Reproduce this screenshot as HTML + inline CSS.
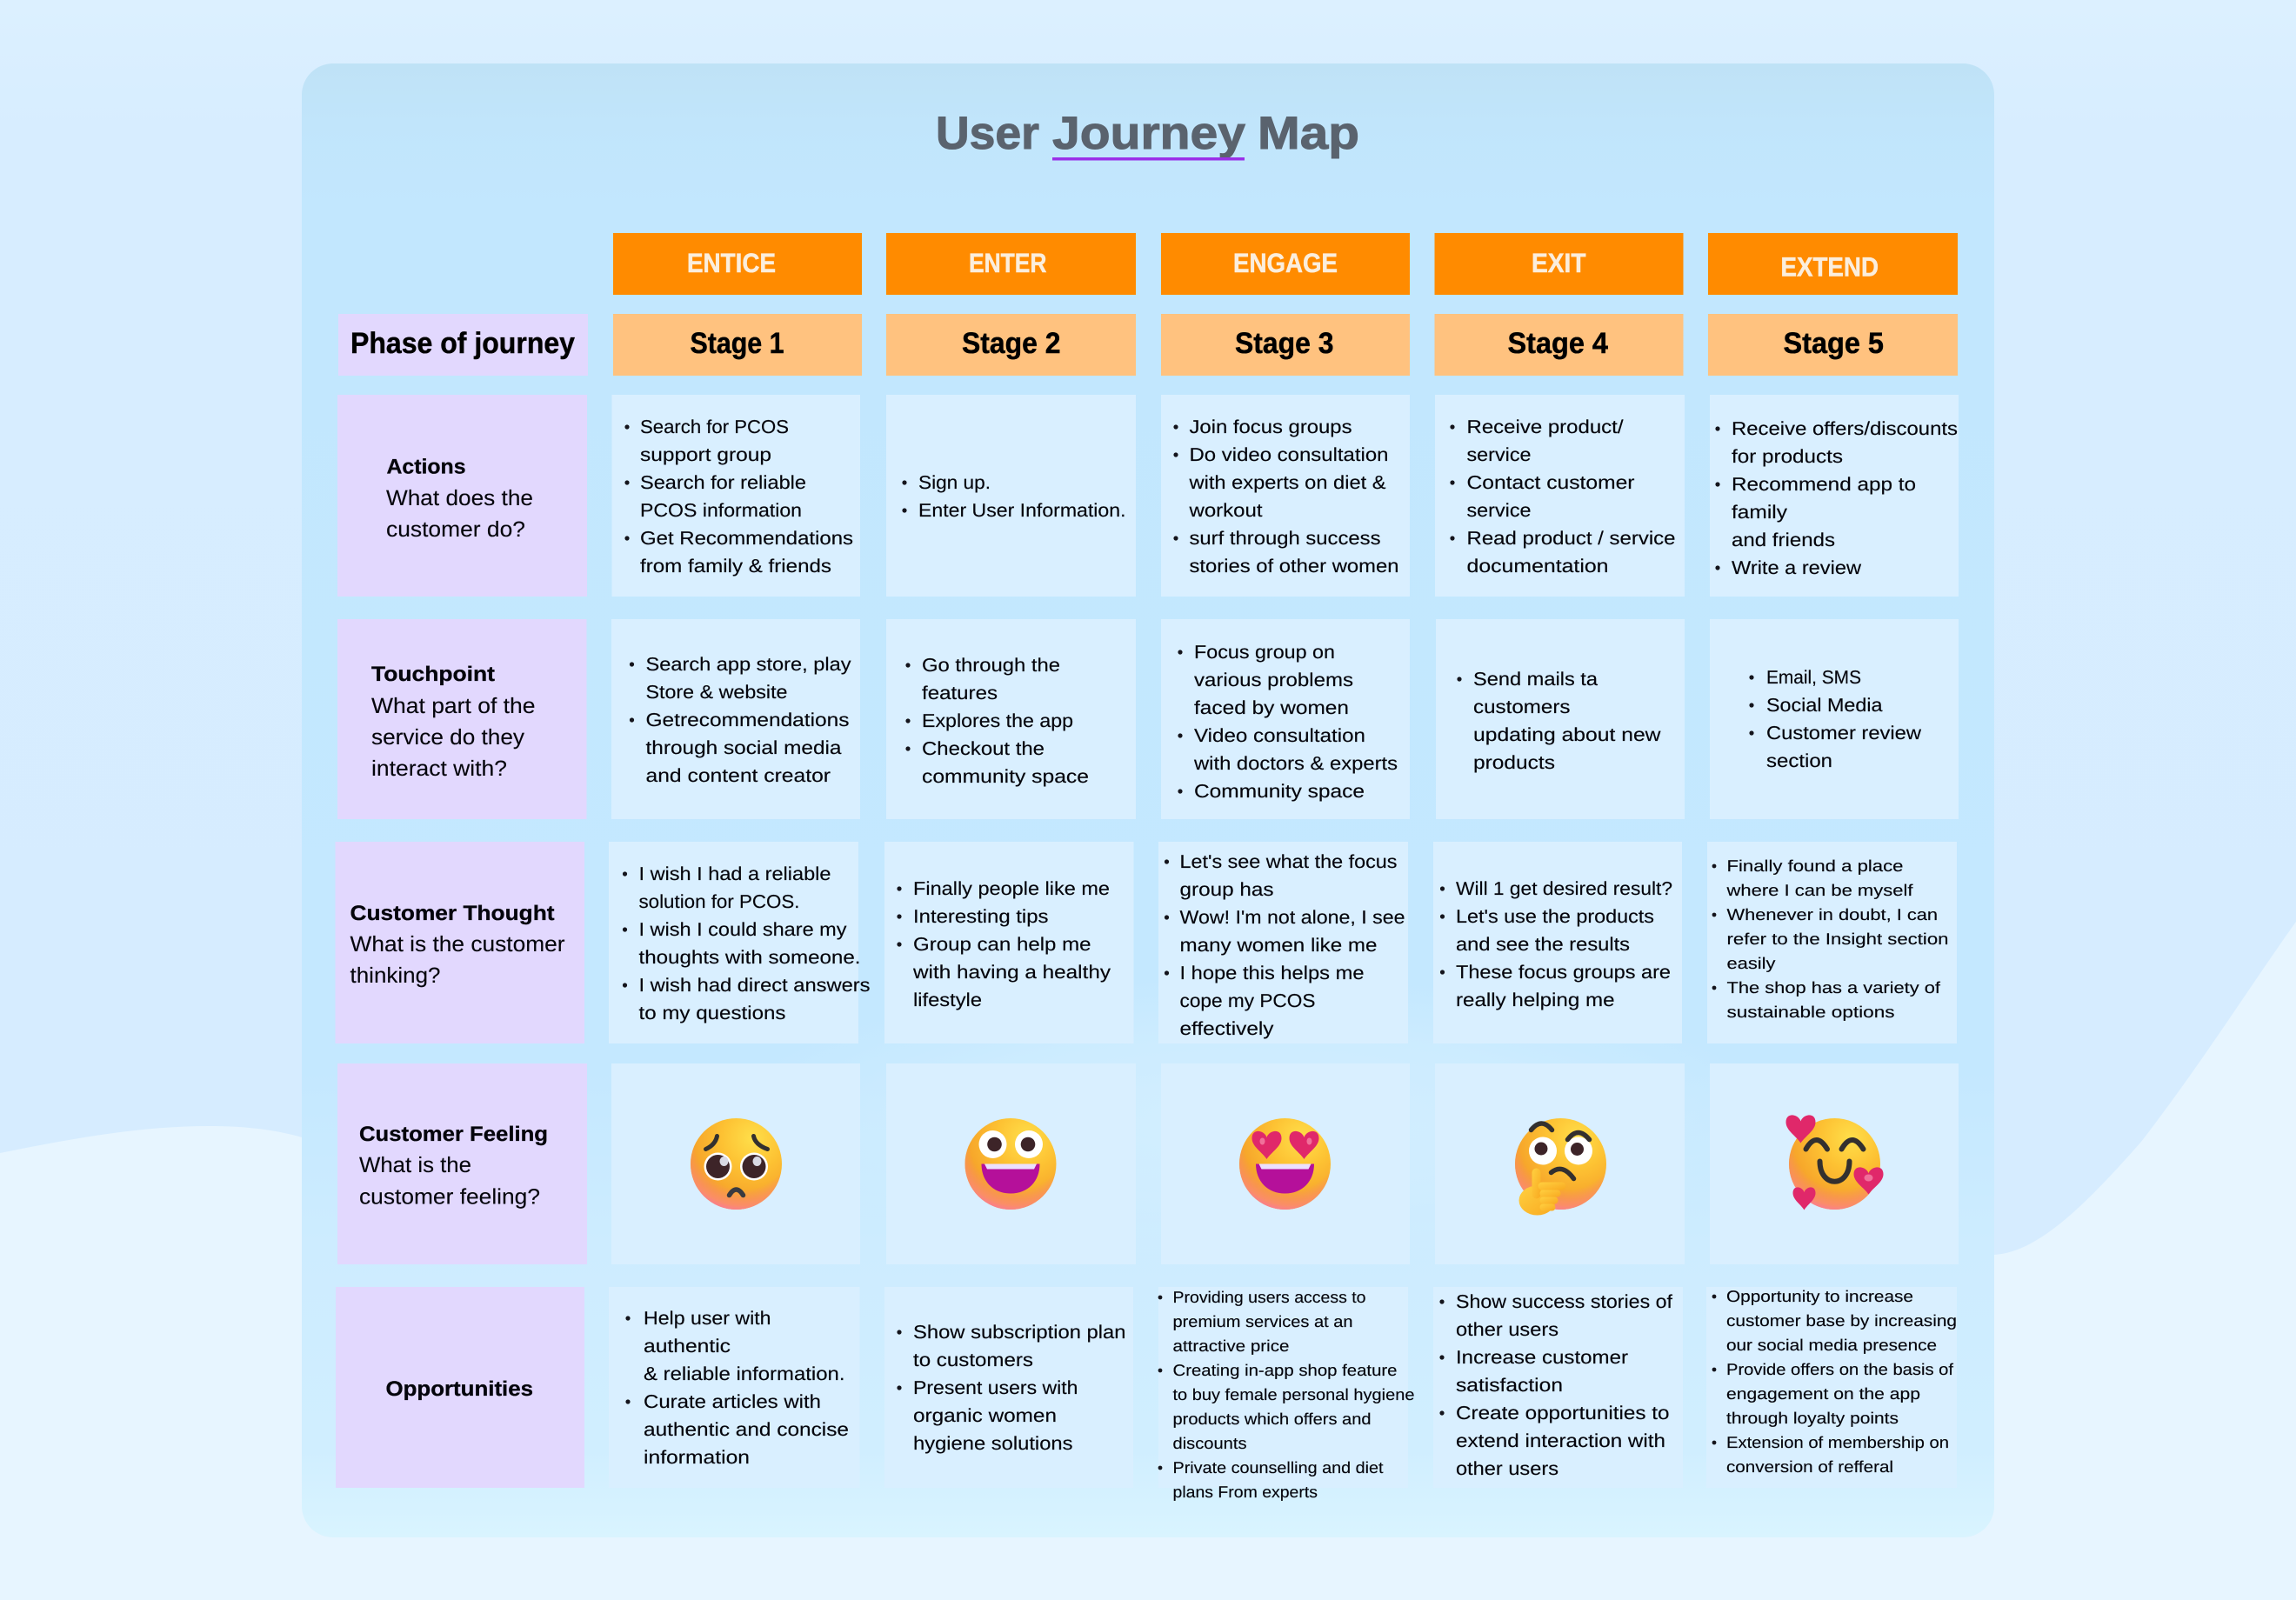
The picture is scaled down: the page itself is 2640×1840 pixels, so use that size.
<!DOCTYPE html>
<html lang="en"><head><meta charset="utf-8"><title>User Journey Map</title>
<style>
html,body{margin:0;padding:0;background:#e7f5ff}
svg{display:block}
text{font-family:"Liberation Sans",sans-serif;fill:#05050c;text-rendering:geometricPrecision}
.t{font-size:21.5px;stroke:#05050c;stroke-width:.15}
.s{font-size:18.5px;stroke:#05050c;stroke-width:.15}
.l{font-size:25px;stroke:#05050c;stroke-width:.1}
.lb{font-size:24px;font-weight:700;stroke:#05050c;stroke-width:.3}
.st{font-size:34px;font-weight:700;fill:#000;stroke:#000;stroke-width:.45}
.h{font-size:31px;font-weight:700;fill:#fbeedd;stroke:#fbeedd;stroke-width:.5}
.ti{font-size:53px;font-weight:700;fill:#5a636e;stroke:#5a636e;stroke-width:1}
.bu{fill:#14141c}
.c{fill:#d9efff}
.p{fill:#e2d8fe}
.o{fill:#ff8b00}
.g{fill:#ffc27f}
.dk{fill:none;stroke:#33302f;stroke-linecap:round}
</style></head>
<body>
<svg xmlns="http://www.w3.org/2000/svg" width="2640" height="1840" viewBox="0 0 2640 1840">
<defs>
<linearGradient id="bgT" x1="0" y1="0" x2="0" y2="1"><stop offset="0" stop-color="#dcf0ff"/><stop offset=".08" stop-color="#d7edff"/><stop offset="1" stop-color="#d6ecff"/></linearGradient>
<linearGradient id="pan" x1="0" y1="0" x2="0" y2="1">
<stop offset="0" stop-color="#bfe2f6"/><stop offset=".04" stop-color="#c1e5fb"/><stop offset=".1" stop-color="#c2e7fe"/><stop offset=".68" stop-color="#c4e8ff"/><stop offset=".8" stop-color="#cdecff"/><stop offset=".94" stop-color="#d0eeff"/><stop offset="1" stop-color="#d9f4ff"/></linearGradient>
<radialGradient id="glow" cx=".5" cy=".5" r=".5"><stop offset="0" stop-color="#d4efff" stop-opacity=".9"/><stop offset=".6" stop-color="#d2eeff" stop-opacity=".6"/><stop offset="1" stop-color="#d0eeff" stop-opacity="0"/></radialGradient>
<radialGradient id="face" cx=".68" cy=".22" r=".95"><stop offset="0" stop-color="#ffdf4a"/><stop offset=".35" stop-color="#fdc233"/><stop offset=".7" stop-color="#f6a42a"/><stop offset="1" stop-color="#ee8f2a"/></radialGradient>
<radialGradient id="pink" cx=".58" cy=".25" r=".8"><stop offset=".66" stop-color="#fb8a70" stop-opacity="0"/><stop offset=".88" stop-color="#fb8d6a" stop-opacity=".95"/><stop offset="1" stop-color="#fa74a6"/></radialGradient>
<linearGradient id="hand" x1="0" y1="0" x2="1" y2="1"><stop offset="0" stop-color="#ffd040"/><stop offset="1" stop-color="#f9a920"/></linearGradient>
<g id="f"><circle r="52.5" fill="url(#face)"/><circle r="52.5" fill="url(#pink)"/></g>
<path id="hrt" d="M0,1C-.3,.75-1,.55-1,.25C-1,.05-.75,-.02-.5,0C-.25,.02-.05,.12,0,.22C.05,.12,.25,.02,.5,0C.75,-.02,1,.05,1,.25C1,.55,.3,.75,0,1Z" fill="#e0286a"/>
<g id="mo"><path d="M-33.500,0H33.500C33.500,20,20,34,0,34C-20,34,-33.500,20,-33.500,0Z" fill="#b5109a"/><path d="M-30,0H30L27,6H-27Z" fill="#ece0ff"/></g>
</defs>

<rect width="2640" height="1840" fill="url(#bgT)"/>
<path d="M0,1326C80,1310,160,1295,240,1295C285,1295,320,1300,347,1308L2293,1443C2340,1440,2390,1395,2462,1313C2530,1225,2590,1130,2640,1060V1840H0Z" fill="#e7f5ff"/>

<rect x="347" y="73" width="1946" height="1695" rx="36" fill="url(#pan)"/>
<ellipse cx="1440" cy="1290" rx="620" ry="170" fill="url(#glow)"/>

<!-- title -->
<text class="ti" x="1076" y="171" textLength="119" lengthAdjust="spacingAndGlyphs">User</text>
<text class="ti" x="1210" y="171" textLength="222" lengthAdjust="spacingAndGlyphs">Journey</text>
<text class="ti" x="1446" y="171" textLength="117" lengthAdjust="spacingAndGlyphs">Map</text>
<rect x="1210" y="181" width="221" height="3.500" fill="#9b30e8"/>

<!-- header row -->
<rect class="o" x="705" y="268" width="286" height="71"/><rect class="o" x="1019" y="268" width="287" height="71"/><rect class="o" x="1335" y="268" width="286" height="71"/><rect class="o" x="1649.500" y="268" width="286" height="71"/><rect class="o" x="1964" y="268" width="287" height="71"/>
<text class="h" x="790" y="313" textLength="102" lengthAdjust="spacingAndGlyphs">ENTICE</text>
<text class="h" x="1114" y="313" textLength="89.500" lengthAdjust="spacingAndGlyphs">ENTER</text>
<text class="h" x="1418" y="313" textLength="120" lengthAdjust="spacingAndGlyphs">ENGAGE</text>
<text class="h" x="1761" y="313" textLength="62.500" lengthAdjust="spacingAndGlyphs">EXIT</text>
<text class="h" x="2047.500" y="317.500" textLength="112.500" lengthAdjust="spacingAndGlyphs">EXTEND</text>

<!-- stage row -->
<rect class="p" x="389" y="361" width="287" height="71"/>
<rect class="g" x="705" y="361" width="286" height="71"/><rect class="g" x="1019" y="361" width="287" height="71"/><rect class="g" x="1335" y="361" width="286" height="71"/><rect class="g" x="1649.500" y="361" width="286" height="71"/><rect class="g" x="1964" y="361" width="287" height="71"/>
<text class="st" x="403" y="406" textLength="258" lengthAdjust="spacingAndGlyphs">Phase of journey</text>
<text class="st" x="793.500" y="406" textLength="108" lengthAdjust="spacingAndGlyphs">Stage 1</text>
<text class="st" x="1106" y="406" textLength="113.500" lengthAdjust="spacingAndGlyphs">Stage 2</text>
<text class="st" x="1420" y="406" textLength="113.500" lengthAdjust="spacingAndGlyphs">Stage 3</text>
<text class="st" x="1733.500" y="406" textLength="115.500" lengthAdjust="spacingAndGlyphs">Stage 4</text>
<text class="st" x="2050.500" y="406" textLength="115.500" lengthAdjust="spacingAndGlyphs">Stage 5</text>

<!-- row 1 -->
<rect class="p" x="388" y="454" width="287" height="232"/>
<rect class="c" x="703.500" y="454" width="285.500" height="232"/><rect class="c" x="1019" y="454" width="287" height="232"/><rect class="c" x="1335" y="454" width="286" height="232"/><rect class="c" x="1650" y="454" width="287" height="232"/><rect class="c" x="1966" y="454" width="286" height="232"/>
<text class="lb" x="444.500" y="544.500" textLength="91" lengthAdjust="spacingAndGlyphs">Actions</text>
<text class="l" x="444" y="581" textLength="169" lengthAdjust="spacingAndGlyphs">What does the</text>
<text class="l" x="444" y="617" textLength="160" lengthAdjust="spacingAndGlyphs">customer do?</text>

<circle class="bu" cx="721" cy="491" r="2.600"/><circle class="bu" cx="721" cy="555" r="2.600"/><circle class="bu" cx="721" cy="619" r="2.600"/>
<text class="t" x="736" y="498" textLength="171" lengthAdjust="spacingAndGlyphs">Search for PCOS</text>
<text class="t" x="736" y="530" textLength="151" lengthAdjust="spacingAndGlyphs">support group</text>
<text class="t" x="736" y="562" textLength="191" lengthAdjust="spacingAndGlyphs">Search for reliable</text>
<text class="t" x="736" y="594" textLength="186" lengthAdjust="spacingAndGlyphs">PCOS information</text>
<text class="t" x="736" y="626" textLength="245" lengthAdjust="spacingAndGlyphs">Get Recommendations</text>
<text class="t" x="736" y="658" textLength="220" lengthAdjust="spacingAndGlyphs">from family &amp; friends</text>

<circle class="bu" cx="1040" cy="555" r="2.600"/><circle class="bu" cx="1040" cy="587" r="2.600"/>
<text class="t" x="1056" y="562" textLength="83" lengthAdjust="spacingAndGlyphs">Sign up.</text>
<text class="t" x="1056" y="594" textLength="238.500" lengthAdjust="spacingAndGlyphs">Enter User Information.</text>

<circle class="bu" cx="1352" cy="491" r="2.600"/><circle class="bu" cx="1352" cy="523" r="2.600"/><circle class="bu" cx="1352" cy="619" r="2.600"/>
<text class="t" x="1367.500" y="498" textLength="187" lengthAdjust="spacingAndGlyphs">Join focus groups</text>
<text class="t" x="1367.500" y="530" textLength="229" lengthAdjust="spacingAndGlyphs">Do video consultation</text>
<text class="t" x="1367.500" y="562" textLength="226" lengthAdjust="spacingAndGlyphs">with experts on diet &amp;</text>
<text class="t" x="1367.500" y="594" textLength="84" lengthAdjust="spacingAndGlyphs">workout</text>
<text class="t" x="1367.500" y="626" textLength="220" lengthAdjust="spacingAndGlyphs">surf through success</text>
<text class="t" x="1367.500" y="658" textLength="241" lengthAdjust="spacingAndGlyphs">stories of other women</text>

<circle class="bu" cx="1670" cy="491" r="2.600"/><circle class="bu" cx="1670" cy="555" r="2.600"/><circle class="bu" cx="1670" cy="619" r="2.600"/>
<text class="t" x="1686.500" y="498" textLength="180" lengthAdjust="spacingAndGlyphs">Receive product/</text>
<text class="t" x="1686.500" y="530" textLength="74" lengthAdjust="spacingAndGlyphs">service</text>
<text class="t" x="1686.500" y="562" textLength="193" lengthAdjust="spacingAndGlyphs">Contact customer</text>
<text class="t" x="1686.500" y="594" textLength="74" lengthAdjust="spacingAndGlyphs">service</text>
<text class="t" x="1686.500" y="626" textLength="240" lengthAdjust="spacingAndGlyphs">Read product / service</text>
<text class="t" x="1686.500" y="658" textLength="163" lengthAdjust="spacingAndGlyphs">documentation</text>

<circle class="bu" cx="1975" cy="493" r="2.600"/><circle class="bu" cx="1975" cy="557" r="2.600"/><circle class="bu" cx="1975" cy="653" r="2.600"/>
<text class="t" x="1991" y="500" textLength="260" lengthAdjust="spacingAndGlyphs">Receive offers/discounts</text>
<text class="t" x="1991" y="532" textLength="128" lengthAdjust="spacingAndGlyphs">for products</text>
<text class="t" x="1991" y="564" textLength="212" lengthAdjust="spacingAndGlyphs">Recommend app to</text>
<text class="t" x="1991" y="596" textLength="64" lengthAdjust="spacingAndGlyphs">family</text>
<text class="t" x="1991" y="628" textLength="119" lengthAdjust="spacingAndGlyphs">and friends</text>
<text class="t" x="1991" y="660" textLength="149" lengthAdjust="spacingAndGlyphs">Write a review</text>

<!-- row 2 -->
<rect class="p" x="388" y="712" width="286.500" height="230"/>
<rect class="c" x="703" y="712" width="286" height="230"/><rect class="c" x="1019" y="712" width="287" height="230"/><rect class="c" x="1335" y="712" width="286" height="230"/><rect class="c" x="1651" y="712" width="286" height="230"/><rect class="c" x="1966" y="712" width="286" height="230"/>
<text class="lb" x="427" y="783" textLength="142" lengthAdjust="spacingAndGlyphs">Touchpoint</text>
<text class="l" x="427" y="820" textLength="188.500" lengthAdjust="spacingAndGlyphs">What part of the</text>
<text class="l" x="427" y="856" textLength="176" lengthAdjust="spacingAndGlyphs">service do they</text>
<text class="l" x="427" y="892" textLength="156" lengthAdjust="spacingAndGlyphs">interact with?</text>

<circle class="bu" cx="726.500" cy="764" r="2.600"/><circle class="bu" cx="726.500" cy="828" r="2.600"/>
<text class="t" x="742.500" y="771" textLength="236" lengthAdjust="spacingAndGlyphs">Search app store, play</text>
<text class="t" x="742.500" y="803" textLength="163" lengthAdjust="spacingAndGlyphs">Store &amp; website</text>
<text class="t" x="742.500" y="835" textLength="234" lengthAdjust="spacingAndGlyphs">Getrecommendations</text>
<text class="t" x="742.500" y="867" textLength="225" lengthAdjust="spacingAndGlyphs">through social media</text>
<text class="t" x="742.500" y="899" textLength="212.500" lengthAdjust="spacingAndGlyphs">and content creator</text>

<circle class="bu" cx="1044" cy="765" r="2.600"/><circle class="bu" cx="1044" cy="829" r="2.600"/><circle class="bu" cx="1044" cy="861" r="2.600"/>
<text class="t" x="1060" y="772" textLength="159" lengthAdjust="spacingAndGlyphs">Go through the</text>
<text class="t" x="1060" y="804" textLength="87" lengthAdjust="spacingAndGlyphs">features</text>
<text class="t" x="1060" y="836" textLength="174" lengthAdjust="spacingAndGlyphs">Explores the app</text>
<text class="t" x="1060" y="868" textLength="141" lengthAdjust="spacingAndGlyphs">Checkout the</text>
<text class="t" x="1060" y="900" textLength="192" lengthAdjust="spacingAndGlyphs">community space</text>

<circle class="bu" cx="1357" cy="750" r="2.600"/><circle class="bu" cx="1357" cy="846" r="2.600"/><circle class="bu" cx="1357" cy="910" r="2.600"/>
<text class="t" x="1373" y="757" textLength="162" lengthAdjust="spacingAndGlyphs">Focus group on</text>
<text class="t" x="1373" y="789" textLength="183" lengthAdjust="spacingAndGlyphs">various problems</text>
<text class="t" x="1373" y="821" textLength="178" lengthAdjust="spacingAndGlyphs">faced by women</text>
<text class="t" x="1373" y="853" textLength="197" lengthAdjust="spacingAndGlyphs">Video consultation</text>
<text class="t" x="1373" y="885" textLength="234" lengthAdjust="spacingAndGlyphs">with doctors &amp; experts</text>
<text class="t" x="1373" y="917" textLength="196" lengthAdjust="spacingAndGlyphs">Community space</text>

<circle class="bu" cx="1678" cy="781" r="2.600"/>
<text class="t" x="1694" y="788" textLength="143" lengthAdjust="spacingAndGlyphs">Send mails ta</text>
<text class="t" x="1694" y="820" textLength="111.500" lengthAdjust="spacingAndGlyphs">customers</text>
<text class="t" x="1694" y="852" textLength="215.500" lengthAdjust="spacingAndGlyphs">updating about new</text>
<text class="t" x="1694" y="884" textLength="94" lengthAdjust="spacingAndGlyphs">products</text>

<circle class="bu" cx="2014" cy="779" r="2.600"/><circle class="bu" cx="2014" cy="811" r="2.600"/><circle class="bu" cx="2014" cy="843" r="2.600"/>
<text class="t" x="2031" y="786" textLength="109" lengthAdjust="spacingAndGlyphs">Email, SMS</text>
<text class="t" x="2031" y="818" textLength="133.500" lengthAdjust="spacingAndGlyphs">Social Media</text>
<text class="t" x="2031" y="850" textLength="178" lengthAdjust="spacingAndGlyphs">Customer review</text>
<text class="t" x="2031" y="882" textLength="76" lengthAdjust="spacingAndGlyphs">section</text>

<!-- row 3 -->
<rect class="p" x="385.500" y="968" width="286.500" height="232"/>
<rect class="c" x="700" y="968" width="287" height="232"/><rect class="c" x="1017" y="968" width="286.500" height="232"/><rect class="c" x="1332" y="968" width="287" height="232"/><rect class="c" x="1648" y="968" width="286" height="232"/><rect class="c" x="1963" y="968" width="287" height="232"/>
<text class="lb" x="402.500" y="1058" textLength="235" lengthAdjust="spacingAndGlyphs">Customer Thought</text>
<text class="l" x="402.500" y="1094" textLength="247" lengthAdjust="spacingAndGlyphs">What is the customer</text>
<text class="l" x="402.500" y="1130" textLength="104" lengthAdjust="spacingAndGlyphs">thinking?</text>

<circle class="bu" cx="718.500" cy="1005" r="2.600"/><circle class="bu" cx="718.500" cy="1069" r="2.600"/><circle class="bu" cx="718.500" cy="1133" r="2.600"/>
<text class="t" x="734.500" y="1012" textLength="221" lengthAdjust="spacingAndGlyphs">I wish I had a reliable</text>
<text class="t" x="734.500" y="1044" textLength="185" lengthAdjust="spacingAndGlyphs">solution for PCOS.</text>
<text class="t" x="734.500" y="1076" textLength="239" lengthAdjust="spacingAndGlyphs">I wish I could share my</text>
<text class="t" x="734.500" y="1108" textLength="255" lengthAdjust="spacingAndGlyphs">thoughts with someone.</text>
<text class="t" x="734.500" y="1140" textLength="266" lengthAdjust="spacingAndGlyphs">I wish had direct answers</text>
<text class="t" x="734.500" y="1172" textLength="169" lengthAdjust="spacingAndGlyphs">to my questions</text>

<circle class="bu" cx="1034" cy="1022" r="2.600"/><circle class="bu" cx="1034" cy="1054" r="2.600"/><circle class="bu" cx="1034" cy="1086" r="2.600"/>
<text class="t" x="1050" y="1029" textLength="226" lengthAdjust="spacingAndGlyphs">Finally people like me</text>
<text class="t" x="1050" y="1061" textLength="155.500" lengthAdjust="spacingAndGlyphs">Interesting tips</text>
<text class="t" x="1050" y="1093" textLength="204.500" lengthAdjust="spacingAndGlyphs">Group can help me</text>
<text class="t" x="1050" y="1125" textLength="227" lengthAdjust="spacingAndGlyphs">with having a healthy</text>
<text class="t" x="1050" y="1157" textLength="79" lengthAdjust="spacingAndGlyphs">lifestyle</text>

<circle class="bu" cx="1341.500" cy="991" r="2.600"/><circle class="bu" cx="1341.500" cy="1055" r="2.600"/><circle class="bu" cx="1341.500" cy="1119" r="2.600"/>
<text class="t" x="1356.500" y="998" textLength="250" lengthAdjust="spacingAndGlyphs">Let's see what the focus</text>
<text class="t" x="1356.500" y="1030" textLength="108" lengthAdjust="spacingAndGlyphs">group has</text>
<text class="t" x="1356.500" y="1062" textLength="259" lengthAdjust="spacingAndGlyphs">Wow! I'm not alone, I see</text>
<text class="t" x="1356.500" y="1094" textLength="227" lengthAdjust="spacingAndGlyphs">many women like me</text>
<text class="t" x="1356.500" y="1126" textLength="212" lengthAdjust="spacingAndGlyphs">I hope this helps me</text>
<text class="t" x="1356.500" y="1158" textLength="156" lengthAdjust="spacingAndGlyphs">cope my PCOS</text>
<text class="t" x="1356.500" y="1190" textLength="108" lengthAdjust="spacingAndGlyphs">effectively</text>

<circle class="bu" cx="1658.500" cy="1022" r="2.600"/><circle class="bu" cx="1658.500" cy="1054" r="2.600"/><circle class="bu" cx="1658.500" cy="1118" r="2.600"/>
<text class="t" x="1674" y="1029" textLength="249" lengthAdjust="spacingAndGlyphs">Will 1 get desired result?</text>
<text class="t" x="1674" y="1061" textLength="228" lengthAdjust="spacingAndGlyphs">Let's use the products</text>
<text class="t" x="1674" y="1093" textLength="200" lengthAdjust="spacingAndGlyphs">and see the results</text>
<text class="t" x="1674" y="1125" textLength="247" lengthAdjust="spacingAndGlyphs">These focus groups are</text>
<text class="t" x="1674" y="1157" textLength="182.500" lengthAdjust="spacingAndGlyphs">really helping me</text>

<circle class="bu" cx="1971" cy="996" r="2.400"/><circle class="bu" cx="1971" cy="1052" r="2.400"/><circle class="bu" cx="1971" cy="1136" r="2.400"/>
<text class="s" x="1985.500" y="1002" textLength="203" lengthAdjust="spacingAndGlyphs">Finally found a place</text>
<text class="s" x="1985.500" y="1030" textLength="214" lengthAdjust="spacingAndGlyphs">where I can be myself</text>
<text class="s" x="1985.500" y="1058" textLength="242.500" lengthAdjust="spacingAndGlyphs">Whenever in doubt, I can</text>
<text class="s" x="1985.500" y="1086" textLength="255" lengthAdjust="spacingAndGlyphs">refer to the Insight section</text>
<text class="s" x="1985.500" y="1114" textLength="56" lengthAdjust="spacingAndGlyphs">easily</text>
<text class="s" x="1985.500" y="1142" textLength="245.500" lengthAdjust="spacingAndGlyphs">The shop has a variety of</text>
<text class="s" x="1985.500" y="1170" textLength="193" lengthAdjust="spacingAndGlyphs">sustainable options</text>

<!-- row 4 -->
<rect class="p" x="388" y="1223" width="287" height="231"/>
<rect class="c" x="703" y="1223" width="286" height="231"/><rect class="c" x="1019" y="1223" width="287" height="231"/><rect class="c" x="1335" y="1223" width="286" height="231"/><rect class="c" x="1650" y="1223" width="287" height="231"/><rect class="c" x="1966" y="1223" width="286" height="231"/>
<text class="lb" x="413" y="1312" textLength="217" lengthAdjust="spacingAndGlyphs">Customer Feeling</text>
<text class="l" x="413" y="1348" textLength="129" lengthAdjust="spacingAndGlyphs">What is the</text>
<text class="l" x="413" y="1384.500" textLength="208" lengthAdjust="spacingAndGlyphs">customer feeling?</text>

<!-- emoji 1 pleading -->
<g transform="translate(846.500 1338.500)"><use href="#f"/>
<path class="dk" stroke-width="5" d="M-22,-32Q-24,-22-35,-17M20,-32Q22,-22,36,-17"/>
<circle cx="-21" cy="3" r="16" fill="#fff"/><circle cx="20.500" cy="3" r="16" fill="#fff"/>
<circle cx="-21" cy="3" r="13.500" fill="#3d2428"/><circle cx="20.500" cy="3" r="13.500" fill="#3d2428"/>
<ellipse cx="-14" cy="-3" rx="5" ry="5.500" fill="#d9d9e4"/><ellipse cx="24" cy="-3" rx="5" ry="5.500" fill="#d9d9e4"/>
<path d="M-8,36Q0,23,8,36" fill="none" stroke="#3a3a40" stroke-width="5.500" stroke-linecap="round"/></g>

<!-- emoji 2 grin -->
<g transform="translate(1162 1338.500)"><use href="#f"/>
<circle cx="-20.500" cy="-22.500" r="16" fill="#fff"/><circle cx="21" cy="-22.500" r="16" fill="#fff"/>
<circle cx="-18.500" cy="-22.500" r="8.300" fill="#3d2428"/><circle cx="20" cy="-22.500" r="8.300" fill="#3d2428"/>
<use href="#mo"/></g>

<!-- emoji 3 heart eyes -->
<g transform="translate(1477.500 1338.500)"><use href="#f"/>
<use href="#hrt" transform="translate(-21 -37.500) scale(17 32)"/><use href="#hrt" transform="translate(22 -37.500) scale(17 32)"/>
<ellipse cx="-26" cy="-26" rx="3" ry="4" fill="#f0709a"/><ellipse cx="28" cy="-26" rx="3" ry="4" fill="#f0709a"/>
<use href="#mo"/></g>

<!-- emoji 4 thinking -->
<g transform="translate(1794.500 1338.500)"><use href="#f"/>
<circle cx="-20.500" cy="-15" r="16" fill="#fff"/><circle cx="20.500" cy="-15" r="16" fill="#fff"/>
<circle cx="-22.500" cy="-17.500" r="7.500" fill="#3d2428"/><circle cx="19" cy="-17" r="7.500" fill="#3d2428"/>
<path class="dk" stroke-width="5.500" d="M-34,-39Q-22,-54-10,-39M8,-28Q20,-44,33,-28M-11,10Q2,-1,15,17"/>
<g fill="url(#hand)"><ellipse cx="-27" cy="42" rx="21" ry="17"/><rect x="-33" y="5" width="10" height="35" rx="5"/><rect x="-26" y="21" width="32" height="9" rx="4.500"/><rect x="-24" y="30" width="24" height="8" rx="4"/><rect x="-24" y="38" width="21" height="8" rx="4"/><rect x="-24" y="46" width="18" height="8" rx="4"/></g></g>

<!-- emoji 5 hearts -->
<g transform="translate(2109.500 1338.500)"><use href="#f"/>
<path class="dk" stroke-width="6" d="M-33,-17Q-21,-38-8.500,-17M8,-17Q20,-38,33,-17M-17,-3C-17,28,17,28,17,-3"/>
<use href="#hrt" transform="translate(-39 -56) scale(17 32)"/><use href="#hrt" transform="translate(39 4) scale(17 31)"/><use href="#hrt" transform="translate(-35 27) scale(13 26)"/>
<ellipse cx="39" cy="16" rx="5" ry="4" fill="#f0709a"/></g>

<!-- row 5 -->
<rect class="p" x="386" y="1480" width="286" height="231"/>
<rect class="c" x="700" y="1480" width="288.500" height="231"/><rect class="c" x="1017" y="1480" width="286" height="231"/><rect class="c" x="1332" y="1480" width="287" height="231"/><rect class="c" x="1648" y="1480" width="287" height="231"/><rect class="c" x="1962" y="1480" width="288" height="231"/>
<text class="lb" x="443.500" y="1605" textLength="169.500" lengthAdjust="spacingAndGlyphs">Opportunities</text>

<circle class="bu" cx="722" cy="1516" r="2.600"/><circle class="bu" cx="722" cy="1612" r="2.600"/>
<text class="t" x="740" y="1523" textLength="146.500" lengthAdjust="spacingAndGlyphs">Help user with</text>
<text class="t" x="740" y="1555" textLength="100" lengthAdjust="spacingAndGlyphs">authentic</text>
<text class="t" x="740" y="1587" textLength="231.500" lengthAdjust="spacingAndGlyphs">&amp; reliable information.</text>
<text class="t" x="740" y="1619" textLength="204" lengthAdjust="spacingAndGlyphs">Curate articles with</text>
<text class="t" x="740" y="1651" textLength="236" lengthAdjust="spacingAndGlyphs">authentic and concise</text>
<text class="t" x="740" y="1683" textLength="122" lengthAdjust="spacingAndGlyphs">information</text>

<circle class="bu" cx="1034" cy="1532" r="2.600"/><circle class="bu" cx="1034" cy="1596" r="2.600"/>
<text class="t" x="1050" y="1539" textLength="244.500" lengthAdjust="spacingAndGlyphs">Show subscription plan</text>
<text class="t" x="1050" y="1571" textLength="138" lengthAdjust="spacingAndGlyphs">to customers</text>
<text class="t" x="1050" y="1603" textLength="189.500" lengthAdjust="spacingAndGlyphs">Present users with</text>
<text class="t" x="1050" y="1635" textLength="165" lengthAdjust="spacingAndGlyphs">organic women</text>
<text class="t" x="1050" y="1667" textLength="183.500" lengthAdjust="spacingAndGlyphs">hygiene solutions</text>

<circle class="bu" cx="1334" cy="1492" r="2.400"/><circle class="bu" cx="1334" cy="1576" r="2.400"/><circle class="bu" cx="1334" cy="1688" r="2.400"/>
<text class="s" x="1348.500" y="1498" textLength="222" lengthAdjust="spacingAndGlyphs">Providing users access to</text>
<text class="s" x="1348.500" y="1526" textLength="207" lengthAdjust="spacingAndGlyphs">premium services at an</text>
<text class="s" x="1348.500" y="1554" textLength="134" lengthAdjust="spacingAndGlyphs">attractive price</text>
<text class="s" x="1348.500" y="1582" textLength="258" lengthAdjust="spacingAndGlyphs">Creating in-app shop feature</text>
<text class="s" x="1348.500" y="1610" textLength="278" lengthAdjust="spacingAndGlyphs">to buy female personal hygiene</text>
<text class="s" x="1348.500" y="1638" textLength="228" lengthAdjust="spacingAndGlyphs">products which offers and</text>
<text class="s" x="1348.500" y="1666" textLength="85" lengthAdjust="spacingAndGlyphs">discounts</text>
<text class="s" x="1348.500" y="1694" textLength="242" lengthAdjust="spacingAndGlyphs">Private counselling and diet</text>
<text class="s" x="1348.500" y="1722" textLength="166.500" lengthAdjust="spacingAndGlyphs">plans From experts</text>

<circle class="bu" cx="1658" cy="1497" r="2.600"/><circle class="bu" cx="1658" cy="1561" r="2.600"/><circle class="bu" cx="1658" cy="1625" r="2.600"/>
<text class="t" x="1674" y="1504" textLength="249" lengthAdjust="spacingAndGlyphs">Show success stories of</text>
<text class="t" x="1674" y="1536" textLength="118" lengthAdjust="spacingAndGlyphs">other users</text>
<text class="t" x="1674" y="1568" textLength="198" lengthAdjust="spacingAndGlyphs">Increase customer</text>
<text class="t" x="1674" y="1600" textLength="123" lengthAdjust="spacingAndGlyphs">satisfaction</text>
<text class="t" x="1674" y="1632" textLength="245.500" lengthAdjust="spacingAndGlyphs">Create opportunities to</text>
<text class="t" x="1674" y="1664" textLength="241" lengthAdjust="spacingAndGlyphs">extend interaction with</text>
<text class="t" x="1674" y="1696" textLength="118" lengthAdjust="spacingAndGlyphs">other users</text>

<circle class="bu" cx="1971" cy="1491" r="2.400"/><circle class="bu" cx="1971" cy="1575" r="2.400"/><circle class="bu" cx="1971" cy="1659" r="2.400"/>
<text class="s" x="1985" y="1497" textLength="215" lengthAdjust="spacingAndGlyphs">Opportunity to increase</text>
<text class="s" x="1985" y="1525" textLength="265" lengthAdjust="spacingAndGlyphs">customer base by increasing</text>
<text class="s" x="1985" y="1553" textLength="242" lengthAdjust="spacingAndGlyphs">our social media presence</text>
<text class="s" x="1985" y="1581" textLength="261" lengthAdjust="spacingAndGlyphs">Provide offers on the basis of</text>
<text class="s" x="1985" y="1609" textLength="223" lengthAdjust="spacingAndGlyphs">engagement on the app</text>
<text class="s" x="1985" y="1637" textLength="198" lengthAdjust="spacingAndGlyphs">through loyalty points</text>
<text class="s" x="1985" y="1665" textLength="256" lengthAdjust="spacingAndGlyphs">Extension of membership on</text>
<text class="s" x="1985" y="1693" textLength="192" lengthAdjust="spacingAndGlyphs">conversion of refferal</text>
</svg>
</body></html>
